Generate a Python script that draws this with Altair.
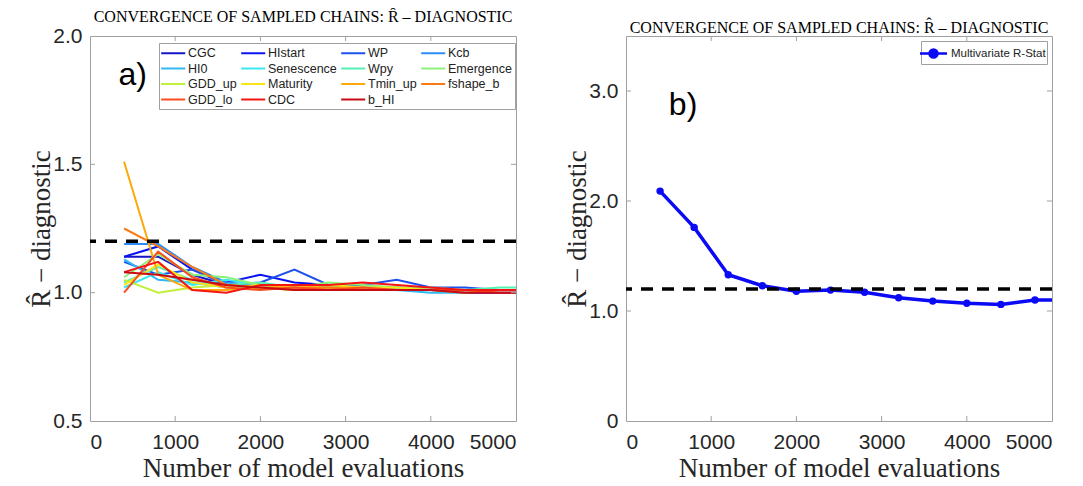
import altair as alt
import pandas as pd

# ---------------- data ----------------
evals = [400, 800, 1200, 1600, 2000, 2400, 2800, 3200, 3600, 4000, 4400, 4800, 5000]

params = ["CGC", "HIstart", "WP", "Kcb", "HI0", "Senescence", "Wpy", "Emergence",
          "GDD_up", "Maturity", "Tmin_up", "fshape_b", "GDD_lo", "CDC", "b_HI"]
colors = ["#1515c8", "#0a14f0", "#1e50f0", "#2a8cf5", "#30b8f5", "#3ce8f0", "#55f0b4",
          "#8cf07a", "#c0f03a", "#fae614", "#fcaa0a", "#fc7a14", "#fc4c1e", "#f51414", "#c80a14"]

rhat_CGC = [1.14, 1.14, 1.07, 1.03, 1.02, 1.02, 1.01, 1.01, 1.01, 1.01, 1.00, 1.00, 1.00]
rhat_HIstart = [1.14, 1.18, 1.09, 1.04, 1.07, 1.04, 1.03, 1.02, 1.02, 1.01, 1.01, 1.01, 1.01]
rhat_WP = [1.12, 1.07, 1.09, 1.03, 1.04, 1.09, 1.03, 1.03, 1.05, 1.02, 1.02, 1.01, 1.01]
rhat_Kcb = [1.19, 1.19, 1.10, 1.04, 1.03, 1.02, 1.02, 1.01, 1.01, 1.01, 1.01, 1.01, 1.01]
rhat_HI0 = [1.13, 1.05, 1.04, 1.02, 1.02, 1.03, 1.02, 1.01, 1.01, 1.00, 1.00, 1.01, 1.01]
rhat_Senescence = [1.02, 1.08, 1.03, 1.05, 1.03, 1.03, 1.02, 1.02, 1.01, 1.01, 1.01, 1.01, 1.01]
rhat_Wpy = [1.04, 1.10, 1.05, 1.03, 1.04, 1.02, 1.03, 1.02, 1.02, 1.01, 1.01, 1.02, 1.02]
rhat_Emergence = [1.06, 1.15, 1.07, 1.06, 1.03, 1.02, 1.04, 1.03, 1.02, 1.02, 1.01, 1.01, 1.01]
rhat_GDD_up = [1.05, 1.00, 1.02, 1.03, 1.02, 1.01, 1.02, 1.01, 1.01, 1.01, 1.01, 1.01, 1.01]
rhat_Maturity = [1.03, 1.11, 1.04, 1.02, 1.03, 1.02, 1.03, 1.02, 1.02, 1.01, 1.01, 1.01, 1.01]
rhat_Tmin_up = [1.51, 1.07, 1.01, 1.01, 1.02, 1.01, 1.02, 1.02, 1.01, 1.01, 1.00, 1.01, 1.01]
rhat_fshape_b = [1.25, 1.18, 1.10, 1.03, 1.02, 1.02, 1.02, 1.01, 1.01, 1.01, 1.01, 1.01, 1.01]
rhat_GDD_lo = [1.00, 1.16, 1.06, 1.02, 1.01, 1.02, 1.01, 1.02, 1.01, 1.01, 1.01, 1.00, 1.00]
rhat_CDC = [1.08, 1.12, 1.01, 1.00, 1.03, 1.03, 1.03, 1.04, 1.03, 1.02, 1.01, 1.01, 1.01]
rhat_b_HI = [1.08, 1.07, 1.05, 1.03, 1.02, 1.01, 1.01, 1.01, 1.01, 1.01, 1.00, 1.00, 1.00]

series = [rhat_CGC, rhat_HIstart, rhat_WP, rhat_Kcb, rhat_HI0, rhat_Senescence, rhat_Wpy,
          rhat_Emergence, rhat_GDD_up, rhat_Maturity, rhat_Tmin_up, rhat_fshape_b,
          rhat_GDD_lo, rhat_CDC, rhat_b_HI]

mv_evals = [400, 800, 1200, 1600, 2000, 2400, 2800, 3200, 3600, 4000, 4400, 4800, 5000]
mv_rhat = [2.09, 1.76, 1.33, 1.23, 1.18, 1.19, 1.17, 1.12, 1.09, 1.07, 1.06, 1.10, 1.10]
mv_marker = [True] * 12 + [False]

threshold = 1.2
x_ticks = [0, 1000, 2000, 3000, 4000, 5000]
ya_ticks = [0.5, 1.0, 1.5, 2.0]
yb_ticks = [0, 1, 2, 3]

title_text = "CONVERGENCE OF SAMPLED CHAINS: R\u0302 \u2013 DIAGNOSTIC"
ytitle = "R\u0302  \u2212  diagnostic"
xtitle = "Number of model evaluations"

# ---------------- tables ----------------
rows = []
for p, vals in zip(params, series):
    for e, v in zip(evals, vals):
        rows.append({"evals": e, "rhat": v, "param": p})
df_a = pd.DataFrame(rows)
df_b = pd.DataFrame({"evals": mv_evals, "rhat": mv_rhat, "marker": mv_marker,
                     "name": ["Multivariate R-Stat"] * len(mv_evals)})
df_thr = pd.DataFrame({"y": [threshold]})
df_xt = pd.DataFrame({"x": x_ticks[1:-1]})
df_yat = pd.DataFrame({"y": ya_ticks[1:-1]})
df_ybt = pd.DataFrame({"y": yb_ticks[1:]})
df_la = pd.DataFrame({"x": [500], "y": [1.85], "t": ["a)"]})
df_lb = pd.DataFrame({"x": [670], "y": [2.87], "t": ["b)"]})

# legend fills column by column (4 rows): reorder so it reads row by row
NCOL = 4
order_idx = [r * NCOL + c for c in range(NCOL) for r in range(4) if r * NCOL + c < len(params)]
leg_domain = [params[i] for i in order_idx]
leg_range = [colors[i] for i in order_idx]

W, H = 426, 385
GRAY = "#a0a0a0"
SANS = "Liberation Sans"
SERIF = "Liberation Serif"

xscale = alt.Scale(domain=[0, 5000], nice=False)
xaxis = alt.Axis(values=x_ticks, format="d", title=xtitle, labelPadding=10, titlePadding=3)


def deco(yscale, ytick_df, label_df):
    thr = alt.Chart(df_thr).mark_rule(color="black", strokeWidth=3.5, strokeDash=[12, 9]).encode(
        y=alt.Y("y:Q", scale=yscale))
    tb = alt.Chart(df_xt).mark_rule(color=GRAY, strokeWidth=1).encode(
        x=alt.X("x:Q", scale=xscale), y=alt.value(H), y2=alt.value(H - 5))
    tt = alt.Chart(df_xt).mark_rule(color=GRAY, strokeWidth=1).encode(
        x=alt.X("x:Q", scale=xscale), y=alt.value(0), y2=alt.value(5))
    tl = alt.Chart(ytick_df).mark_rule(color=GRAY, strokeWidth=1).encode(
        y=alt.Y("y:Q", scale=yscale), x=alt.value(0), x2=alt.value(5))
    tr = alt.Chart(ytick_df).mark_rule(color=GRAY, strokeWidth=1).encode(
        y=alt.Y("y:Q", scale=yscale), x=alt.value(W), x2=alt.value(W - 5))
    lab = alt.Chart(label_df).mark_text(font=SANS, fontSize=32, color="black").encode(
        x=alt.X("x:Q", scale=xscale), y=alt.Y("y:Q", scale=yscale), text="t:N")
    return [tb, tt, tl, tr, thr, lab]


Xenc = alt.X("evals:Q", scale=xscale, axis=xaxis)
title_params = dict(font=SERIF, fontSize=16, fontWeight="normal", color="black",
                    anchor="middle", offset=0)

# panel a
ya_scale = alt.Scale(domain=[0.5, 2.0], nice=False)
ya_axis = alt.Axis(values=ya_ticks, format=".1f", title=ytitle, labelPadding=8, titlePadding=-3)
lines_a = alt.Chart(df_a).mark_line(strokeWidth=2, clip=True).encode(
    x=Xenc,
    y=alt.Y("rhat:Q", scale=ya_scale, axis=ya_axis),
    color=alt.Color("param:N", scale=alt.Scale(domain=leg_domain, range=leg_range),
                    legend=alt.Legend(orient="none", legendX=69, legendY=7, columns=NCOL,
                                      gridAlign="each",
                                      symbolType="M-1.3,0L2.7,0", symbolSize=144,
                                      symbolStrokeWidth=2,
                                      labelFont=SANS, labelFontSize=12.5, labelColor="#222",
                                      labelOffset=12, labelLimit=0, rowPadding=1.5,
                                      columnPadding=0, padding=3, strokeColor=GRAY,
                                      fillColor="white", title=None)),
    order=alt.Order("evals:Q"),
)
chart_a = alt.layer(lines_a, *deco(ya_scale, df_yat, df_la)).properties(
    width=W, height=H, title=alt.TitleParams(title_text, **title_params))

# panel b
yb_scale = alt.Scale(domain=[0, 3.5], nice=False)
yb_axis = alt.Axis(values=yb_ticks, title=ytitle, labelPadding=8, titlePadding=-3,
                   labelExpr="datum.value == 0 ? '0' : format(datum.value, '.1f')")
leg_path = "M-1.35,0L1.35,0M-0.4,0A0.4,0.4,0,1,1,0.4,0A0.4,0.4,0,1,1,-0.4,0Z"
line_b = alt.Chart(df_b).mark_line(strokeWidth=3.5, clip=True).encode(
    x=Xenc,
    y=alt.Y("rhat:Q", scale=yb_scale, axis=yb_axis),
    color=alt.Color("name:N", scale=alt.Scale(domain=["Multivariate R-Stat"], range=["#0a0af5"]),
                    legend=alt.Legend(orient="top-right", offset=5, symbolType=leg_path,
                                      symbolSize=400, symbolStrokeWidth=2.5,
                                      symbolFillColor="#0a0af5", symbolStrokeColor="#0a0af5",
                                      labelFont=SANS, labelFontSize=11.5, labelColor="#222",
                                      labelOffset=6, labelLimit=0, padding=1,
                                      strokeColor=GRAY, fillColor="white", title=None)),
)
pts_b = alt.Chart(df_b).transform_filter("datum.marker").mark_circle(
    size=55, opacity=1, color="#0a0af5").encode(
    x=Xenc, y=alt.Y("rhat:Q", scale=yb_scale))
chart_b = alt.layer(line_b, pts_b, *deco(yb_scale, df_ybt, df_lb)).properties(
    width=W, height=H, title=alt.TitleParams(title_text, **title_params))

chart = alt.hconcat(chart_a, chart_b, spacing=110, bounds="flush").resolve_scale(
    color="independent", y="independent").configure_view(
    stroke=GRAY, strokeWidth=1).configure_axis(
    grid=False, domain=False, ticks=False, labelFont=SANS, labelFontSize=21,
    labelColor="#262626", titleFont=SERIF, titleFontSize=27, titleFontWeight="normal",
    titleColor="#262626").properties(padding={"left": 19, "top": 0, "right": 5, "bottom": 0})

chart.save("out.html", embed_options={"renderer": "svg", "actions": False})
